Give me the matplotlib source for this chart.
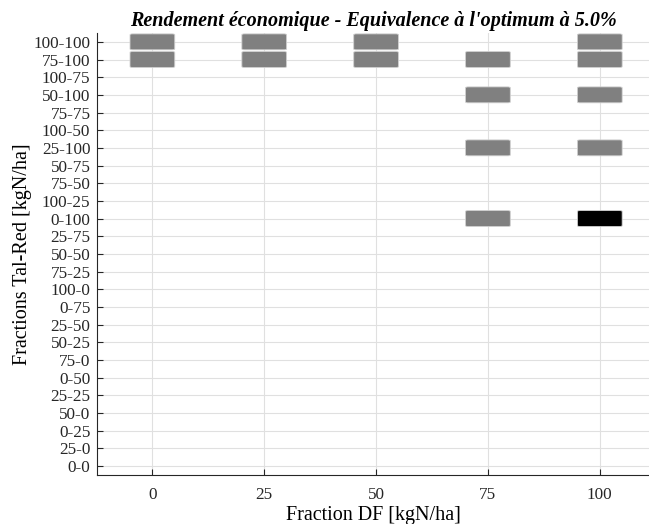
# Rendement economique - equivalence a l'optimum
import matplotlib
matplotlib.use("Agg")
import matplotlib.pyplot as plt
from matplotlib.patches import FancyBboxPatch

plt.rcParams['font.family'] = ['Liberation Serif', 'DejaVu Serif']

y_labels = ['100-100', '75-100', '100-75', '50-100', '75-75', '100-50', '25-100',
            '50-75', '75-50', '100-25', '0-100', '25-75', '50-50', '75-25', '100-0',
            '0-75', '25-50', '50-25', '75-0', '0-50', '25-25', '50-0', '0-25',
            '25-0', '0-0']
x_ticks = [0, 25, 50, 75, 100]

# equivalent combinations (DF fraction, Tal-Red fraction)
equiv_df = [0, 0, 25, 25, 50, 50, 75, 75, 75, 75, 100, 100, 100, 100]
equiv_tr = ['100-100', '75-100', '100-100', '75-100', '100-100', '75-100',
            '75-100', '50-100', '25-100', '0-100',
            '100-100', '75-100', '50-100', '25-100']
optimum_df = 100
optimum_tr = '0-100'

fig, ax = plt.subplots(figsize=(6.49, 5.24), dpi=100)
fig.subplots_adjust(left=0.15, right=1.0, top=0.937, bottom=0.094)

ypos = {lab: i for i, lab in enumerate(y_labels)}
w, h = 10, 0.9

def box(x, lab, color):
    y = ypos[lab]
    ax.add_patch(FancyBboxPatch((x - w / 2, y - h / 2), w, h,
                                boxstyle="round,pad=0,rounding_size=0.6",
                                mutation_aspect=0.08,
                                facecolor=color, edgecolor='#d0d0d0', lw=0.6, zorder=3))

for x, lab in zip(equiv_df, equiv_tr):
    box(x, lab, '#808080')
box(optimum_df, optimum_tr, 'black')

ax.set_xlim(-12.3, 111)
ax.set_ylim(len(y_labels) - 0.5, -0.5)
ax.set_xticks(x_ticks)
ax.set_yticks(range(len(y_labels)))
ax.set_yticklabels(y_labels)
ax.tick_params(direction='in', length=4, labelsize=12.3, colors='#262626')
ax.tick_params(axis='x', pad=9)
ax.tick_params(axis='y', pad=5)
ax.grid(True, color='#e0e0e0', lw=0.8, zorder=0)
ax.set_axisbelow(True)
for s in ['top', 'right']:
    ax.spines[s].set_visible(False)
for s in ['left', 'bottom']:
    ax.spines[s].set_color('#262626')
    ax.spines[s].set_linewidth(0.8)

ax.set_xlabel('Fraction DF [kgN/ha]', fontsize=14.5, labelpad=2)
ax.set_ylabel('Fractions Tal-Red [kgN/ha]', fontsize=14.5, labelpad=1)
ax.set_title("Rendement économique - Equivalence à l'optimum à 5.0%",
             fontsize=14.5, fontweight='bold', fontstyle='italic', pad=5)

fig.savefig('out.png', dpi=100)
